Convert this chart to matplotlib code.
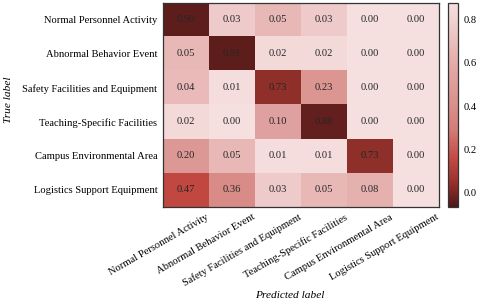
import numpy as np
import matplotlib
matplotlib.use("Agg")
import matplotlib.pyplot as plt
import matplotlib.transforms as mtransforms
from matplotlib.colors import LinearSegmentedColormap, Normalize
from matplotlib.cm import ScalarMappable

plt.rcParams['font.family'] = ['Liberation Serif', 'DejaVu Serif']

classes = ["Normal Personnel Activity", "Abnormal Behavior Event",
           "Safety Facilities and Equipment", "Teaching-Specific Facilities",
           "Campus Environmental Area", "Logistics Support Equipment"]

cm = np.array([[0.90, 0.03, 0.05, 0.03, 0.00, 0.00],
               [0.05, 0.91, 0.02, 0.02, 0.00, 0.00],
               [0.04, 0.01, 0.73, 0.23, 0.00, 0.00],
               [0.02, 0.00, 0.10, 0.88, 0.00, 0.00],
               [0.20, 0.05, 0.01, 0.01, 0.73, 0.00],
               [0.47, 0.36, 0.03, 0.05, 0.08, 0.00]])

cbar_ticks = [0.0, 0.2, 0.4, 0.6, 0.8]

# cell colours (light -> dark, strongly non-linear)
cell_cmap = LinearSegmentedColormap.from_list("cells", [
    (0.000, "#f5dfdf"),
    (0.025, "#f3d9d8"),
    (0.030, "#eabdbc"),
    (0.080, "#e5b1af"),
    (0.100, "#dea09e"),
    (0.230, "#dc9692"),
    (0.360, "#d98c88"),
    (0.470, "#c24842"),
    (0.730, "#8e2f2a"),
    (0.900, "#5e1e1c"),
    (1.000, "#551a19"),
])

# colourbar as drawn in the reference (dark at the bottom)
bar_cmap = LinearSegmentedColormap.from_list("bar", [
    (0.00, "#4e1818"),
    (0.12, "#9a302b"),
    (0.24, "#c44b43"),
    (0.38, "#d47c77"),
    (0.50, "#da8f8b"),
    (0.70, "#e3aaa8"),
    (0.90, "#efcfce"),
    (1.00, "#f5e0e0"),
])

fs = 7.6

fig = plt.figure(figsize=(4.8, 3.01), dpi=100)
ax = fig.add_axes([0.3396, 0.3123, 0.575, 0.678])
cax = fig.add_axes([0.933, 0.3123, 0.0208, 0.678])

n = len(classes)
ax.imshow(cm, cmap=cell_cmap, norm=Normalize(0, 1), aspect='auto',
          interpolation='nearest')
for i in range(n):
    for j in range(n):
        ax.text(j, i, f"{cm[i, j]:.2f}", ha='center', va='center',
                fontsize=fs, color='#262626')

ax.set_xticks(range(n))
ax.set_yticks(range(n))
ax.set_xticklabels(classes, rotation=30, ha='right', rotation_mode='anchor',
                   fontsize=fs)
ax.set_yticklabels(classes, fontsize=fs)
ax.tick_params(length=0, pad=4)
shift = mtransforms.ScaledTranslation(0.20, 0, fig.dpi_scale_trans)
for lab in ax.get_xticklabels():
    lab.set_transform(lab.get_transform() + shift)
for s in ax.spines.values():
    s.set_color('#333333')
    s.set_linewidth(0.9)

ax.set_ylabel("True label", fontsize=8.2, style='italic')
ax.yaxis.set_label_coords(-0.545, 0.525)
ax.set_xlabel("Predicted label", fontsize=8.2, style='italic')
ax.xaxis.set_label_coords(0.46, -0.41)

sm = ScalarMappable(norm=Normalize(-0.065, 0.875), cmap=bar_cmap)
cb = fig.colorbar(sm, cax=cax, ticks=cbar_ticks)
cb.ax.tick_params(labelsize=fs, length=0, pad=4)
cb.ax.set_yticklabels([f"{t:.1f}" for t in cbar_ticks])
cb.outline.set_edgecolor('#333333')
cb.outline.set_linewidth(0.9)

fig.savefig("out.png", dpi=100)
